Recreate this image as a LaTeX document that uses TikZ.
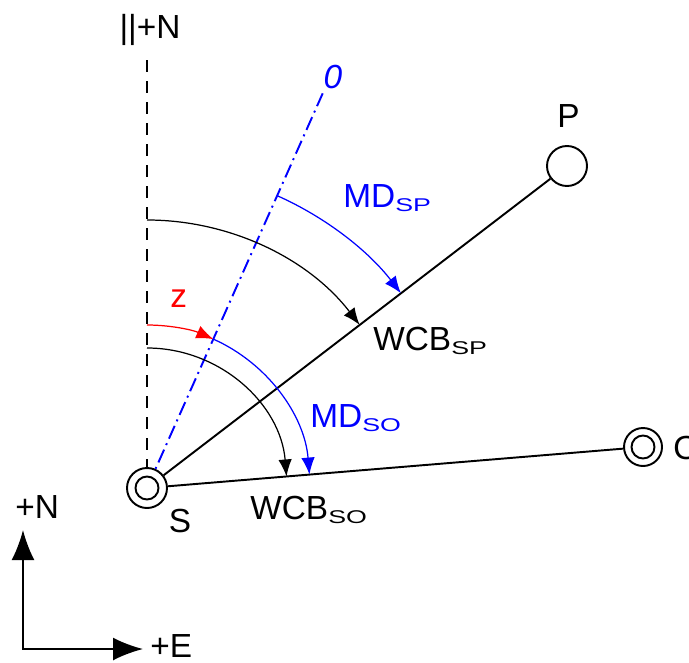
\documentclass[tikz,border=0pt]{standalone}
\usepackage{fontspec}
\setmainfont{Liberation Sans}
\usetikzlibrary{arrows.meta}
\newcommand{\sbs}[1]{\raisebox{-2.6pt}{\scalebox{1.45}[1]{\fontsize{10.5}{10}\selectfont #1}}}
\begin{document}
\begin{tikzpicture}[font=\fontsize{19}{22}\selectfont,
    station/.style={draw, circle, line width=1.1pt, minimum size=0.8cm, inner sep=0},
    lbl/.style={inner sep=0, anchor=base west},
    tip/.style={-{Latex[length=0.34cm,width=0.27cm]}},
    axtip/.style={{Latex[length=0.6cm,width=0.46cm]}-{Latex[length=0.6cm,width=0.46cm]}}]
  \useasboundingbox (-2.94,-3.48) rectangle (10.84,9.76);
  % stations
  \node[station] (S) at (0,0) {};
  \draw[line width=1.1pt] (S.center) circle (0.23);
  \node[station] (P) at (8.4,6.44) {};
  \node[station, minimum size=0.76cm] (O) at (9.92,0.82) {};
  \draw[line width=1.1pt] (O.center) circle (0.23);
  \coordinate (N) at (0,8.56);
  \coordinate (Z) at (66:8.64);
  % reference directions and lines
  \draw[line width=1.1pt, dash pattern=on 0.24cm off 0.18cm] (N) -- (S);
  \draw[blue, line width=1.1pt, dash pattern=on 0.28cm off 0.1cm on 0.04cm off 0.1cm] (Z) -- (S);
  \draw[line width=1.1pt] (S) -- (P);
  \draw[line width=1.1pt] (S) -- (O);
  % bearings
  \foreach \r/\a/\b/\c in {5.36/90/37.5/black, 6.4/66/37.5/blue, 3.26/90/66/red,
      3.26/66/4.73/blue, 2.8/90/4.73/black} {
    \draw[tip, \c, line width=0.7pt] (\a:\r) arc[start angle=\a, end angle=\b, radius=\r];
  }
  % labels
  \node[inner sep=0, anchor=base] (lN) at (0.06,8.98) {||+N};
  \node[inner sep=0, anchor=base, blue, font=\fontsize{19}{22}\selectfont\itshape] (lZ) at (3.72,8.0) {0};
  \node[inner sep=0, anchor=base] (lP) at (8.43,7.22) {P};
  \node[lbl] (lO) at (10.52,0.58) {O};
  \node[inner sep=0, anchor=base] (lS) at (0.66,-0.88) {S};
  \node[lbl, blue] (mdsp) at (3.92,5.62) {MD\sbs{SP}};
  \node[lbl] (wcbsp) at (4.52,2.76) {WCB\sbs{SP}};
  \node[lbl, red] (z) at (0.46,3.62) {z};
  \node[lbl, blue] (mdso) at (3.26,1.22) {MD\sbs{SO}};
  \node[lbl] (wcbso) at (2.06,-0.62) {WCB\sbs{SO}};
  % compass
  \coordinate (ax) at (-2.48,-3.22);
  \coordinate (axN) at (-2.48,-0.84);
  \coordinate (axE) at (-0.08,-3.22);
  \draw[line width=1.1pt, axtip] (axN) -- (ax) -- (axE);
  \node[lbl] (lAN) at (-2.64,-0.6) {+N};
  \node[lbl] (lAE) at (0.06,-3.38) {+E};
\end{tikzpicture}
\end{document}
